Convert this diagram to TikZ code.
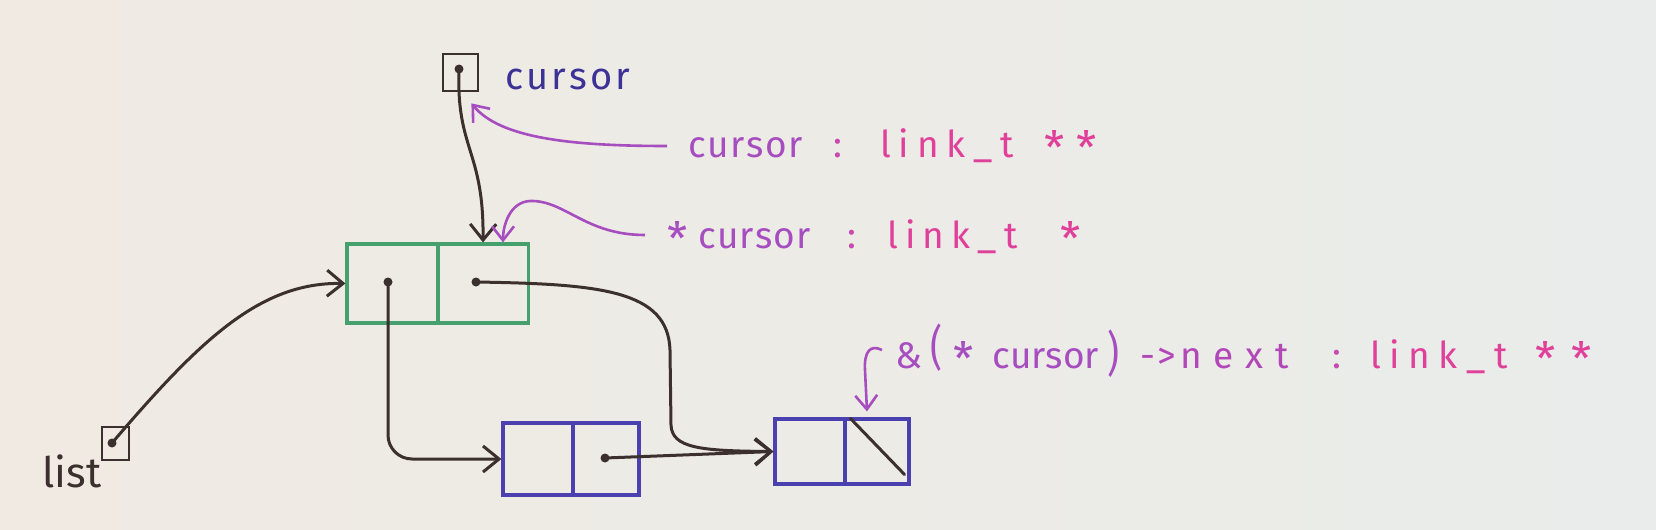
\documentclass[tikz,border=0pt]{standalone}
\usepackage{fontspec}
\usepackage{graphicx}
\setmainfont{Fira Sans}
\usetikzlibrary{arrows.meta,calc}
\definecolor{ink}{HTML}{3B302E}
\definecolor{boxgreen}{HTML}{46A06E}
\definecolor{boxblue}{HTML}{4A40B0}
\definecolor{curblue}{HTML}{3C3296}
\definecolor{mpurple}{HTML}{A64DC0}
\definecolor{mviolet}{HTML}{B247B8}
\definecolor{mmid}{HTML}{C84AB0}
\definecolor{mpink}{HTML}{E0409A}
\definecolor{bgl}{HTML}{F0EAE2}
\definecolor{bgr}{HTML}{E9ECEA}
\newcommand\spreadw[2]{\makebox[#1][s]{#2}}
\newcommand\hast{\raisebox{-3.5pt}{\fontsize{23}{23}\selectfont *}}
\newcommand\wcursor{c\hfil u\hfil r\hfil s\hfil o\hfil r}
\newcommand\wlink{l\hfil i\hfil n\hfil k\hfil\_\hfil t}
\begin{document}
\begin{tikzpicture}[x=0.5pt,y=-0.5pt,
  cell/.style={draw, rectangle, inner sep=0pt, line width=1.6pt},
  gcell/.style={cell, draw=boxgreen, minimum width=45.5pt, minimum height=39.5pt},
  bcell/.style={cell, draw=boxblue},
  varbox/.style={cell, draw=ink, line width=1.4pt},
  dot/.style={circle, fill=ink, inner sep=0pt, minimum size=4.5pt},
  ptr/.style={draw=ink, line width=1.5pt, -{Straight Barb[length=8pt,width=13pt,line width=1.5pt]}},
  note/.style={draw=mpurple, line width=1.3pt, -{Straight Barb[length=7pt,width=11pt,line width=1.3pt]}},
  lbl/.style={inner sep=0pt, anchor=base west, font=\fontsize{18.5}{22}\selectfont},
]
\useasboundingbox (0,0) rectangle (1656,530);
\shade[left color=bgl, right color=bgr] (0,0) rectangle (1656,530);

% variables
\node[varbox, minimum width=17.5pt, minimum height=18.5pt] (cbox) at (460.5,72.5) {};
\node[varbox, minimum width=13.5pt, minimum height=16.5pt] (lbox) at (115.5,443.5) {};
\node[inner sep=0pt, anchor=base west, text=curblue, font=\fontsize{19}{22}\selectfont] (lcur) at (505,90) {\spreadw{62.5pt}{\wcursor}};
\node[inner sep=0pt, anchor=base west, text=ink, font=\fontsize{21}{24}\selectfont] (llist) at (42,487) {\spreadw{27.5pt}{l\hfil i\hfil s\hfil t}};

% cells
\node[gcell] (g1) at (392.5,283.5) {};
\node[gcell] (g2) at (483,283.5) {};
\node[bcell, minimum width=35pt, minimum height=36pt] (b1a) at (538,459) {};
\node[bcell, minimum width=33pt, minimum height=36pt] (b1b) at (606,459) {};
\node[bcell, minimum width=35pt, minimum height=32.5pt] (c1) at (810,451.5) {};
\node[bcell, minimum width=32pt, minimum height=32.5pt] (c2) at (877,451.5) {};

% dots
\node[dot] (dcur) at (459,69) {};
\node[dot] (dlist) at (112,443) {};
\node[dot] (dg1) at (388,282) {};
\node[dot] (dg2) at (476,282) {};
\node[dot] (db1) at (605,458) {};

% null pointer
\draw[ink, line width=1.5pt, line cap=round] ($(c2.north west)+(7,1)$) -- ($(c2.south east)+(-6,-11)$);

% pointers
\draw[ptr] (dcur.center) .. controls (456,150) and (484,150) .. (g2.north);
\draw[ptr] (dlist.center) .. controls (200,340) and (260,282) .. (g1.west);
\draw[ptr, rounded corners=12pt] (dg1.center) |- (b1a.west);
\draw[ptr] (dg2.center) .. controls (600,284) and (668,290) .. (670,350) -- (671,425) .. controls (672,448) and (700,451) .. (c1.west);
\draw[ptr] (db1.center) -- (c1.west);

% annotations
\node[lbl] (t1) at (688,157) {%
\makebox[72.5pt][l]{\textcolor{mpurple}{\spreadw{57pt}{\wcursor}}}%
\makebox[23.5pt][l]{\textcolor{mmid}{:}}%
\makebox[82pt][l]{\textcolor{mpink}{\spreadw{66.5pt}{\wlink}}}%
\textcolor{mpink}{\hast\hspace{6pt}\hast}};
\node[lbl] (t2) at (667,248) {%
\makebox[15.5pt][l]{\textcolor{mpurple}{\hast}}%
\makebox[74.5pt][l]{\textcolor{mpurple}{\spreadw{56pt}{\wcursor}}}%
\makebox[20pt][l]{\textcolor{mmid}{:}}%
\makebox[86.5pt][l]{\textcolor{mpink}{\spreadw{65pt}{\wlink}}}%
\textcolor{mpink}{\hast}};
\node[lbl] (t3) at (895,368) {%
\color{mpurple}%
\makebox[17.5pt][l]{\&}%
\makebox[11.5pt][l]{\raisebox{2pt}{\scalebox{1}[1.3]{(}}}%
\makebox[19.5pt][l]{\hast}%
\makebox[57.5pt][l]{\spreadw{53pt}{\wcursor}}%
\makebox[16.5pt][l]{\raisebox{-1pt}{\scalebox{1}[1.3]{)}}}%
\makebox[20pt][l]{\textcolor{mviolet}{-\kern1pt>}}%
\makebox[76pt][l]{\textcolor{mviolet}{\spreadw{54pt}{n\hfil e\hfil x\hfil t}}}%
\makebox[19pt][l]{\textcolor{mmid}{:}}%
\makebox[82.5pt][l]{\textcolor{mpink}{\spreadw{68.5pt}{\wlink}}}%
\textcolor{mpink}{\hast\hspace{8pt}\hast}};

\draw[note] ($(t1.base west)+(-21,-11)$) .. controls (570,146) and (500,138) .. ($(cbox.south east)+(-8,11)$);
\draw[note] ($(t2.base west)+(-22,-13)$) .. controls (585,235) and (565,200) .. (530,201) .. controls (510,202) and (503,225) .. ($(g2.north)+(20,0)$);
\draw[note] ($(t3.base west)+(-13,-18)$) .. controls (870,344) and (864,352) .. (865,370) -- ($(c2.north)+(-10,-6)$);
\end{tikzpicture}
\end{document}
